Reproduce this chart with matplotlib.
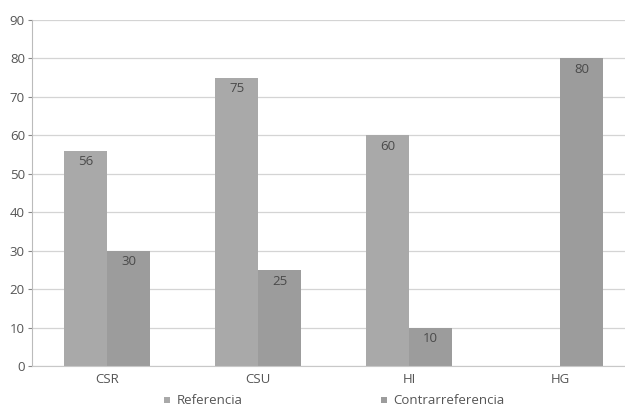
import numpy as np
import matplotlib.pyplot as plt

categories = ["CSR", "CSU", "HI", "HG"]
referencia = [56, 75, 60, 0]
contrarreferencia = [30, 25, 10, 80]
y_ticks = [0, 10, 20, 30, 40, 50, 60, 70, 80, 90]

plt.rcParams["font.family"] = ["Open Sans", "DejaVu Sans"]

fig = plt.figure(figsize=(6.25, 4.09), dpi=100)
ax = fig.add_axes([0.051, 0.105, 0.949, 0.846])

x = np.arange(len(categories)) + 0.285
width = 0.285

ref_color = "#a9a9a9"
con_color = "#9c9c9c"

bars_ref = ax.bar(x - width / 2, referencia, width, color=ref_color,
                  label="Referencia", zorder=2)
bars_con = ax.bar(x + width / 2, contrarreferencia, width, color=con_color,
                  label="Contrarreferencia", zorder=2)

# value labels inside the top of each bar
for bars, vals in [(bars_ref, referencia), (bars_con, contrarreferencia)]:
    for b, v in zip(bars, vals):
        if v == 0:
            continue
        ax.text(b.get_x() + b.get_width() / 2, v - 1.2, str(v),
                ha="center", va="top", fontsize=9.5, color="#4a4a4a", zorder=3)

ax.set_xlim(-0.5 + 0.285, 3.43 + 0.285)
ax.set_ylim(0, 90)
ax.set_yticks(y_ticks)
ax.set_xticks(x)
ax.set_xticklabels(categories)
ax.tick_params(axis="both", colors="#888888", labelcolor="#555555",
               labelsize=9.5, length=3, pad=2)
ax.tick_params(axis="x", length=0, pad=5)

ax.yaxis.grid(True, color="#d4d4d4", linewidth=0.9, zorder=0)
ax.set_axisbelow(True)
for s in ["top", "right"]:
    ax.spines[s].set_visible(False)
ax.spines["left"].set_color("#bbbbbb")
ax.spines["bottom"].set_color("#c8c8c8")

fig.legend(handles=[bars_ref, bars_con], labels=["Referencia", "Contrarreferencia"],
           loc="lower center", bbox_to_anchor=(0.535, -0.025), ncol=2, frameon=False,
           fontsize=9.5, handlelength=0.45, handleheight=0.3, columnspacing=10.5,
           handletextpad=0.5, labelcolor="#555555")

fig.savefig("out.png", dpi=100, facecolor="white")
